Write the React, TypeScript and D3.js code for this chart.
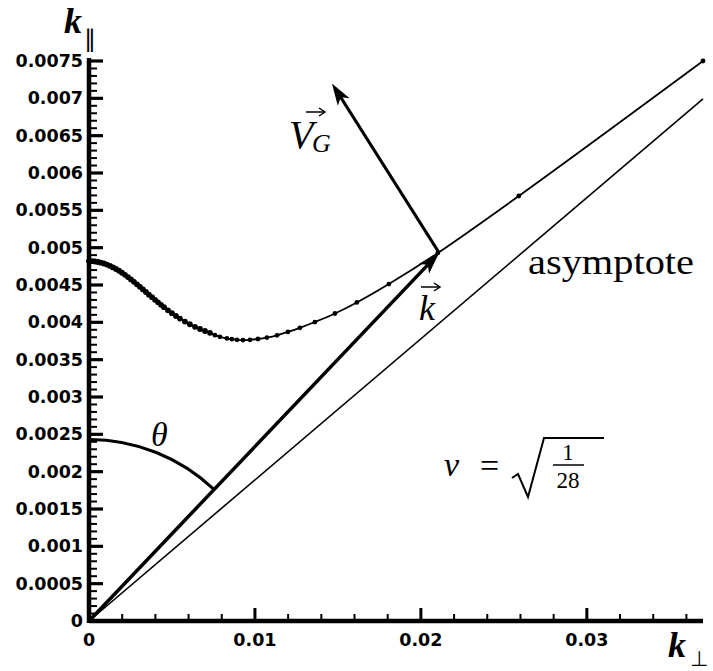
import * as d3 from 'd3';

// dispersion curve k_par(k_perp)
const kPerp = [0, 0.00018, 0.00036, 0.00054, 0.00072, 0.0009, 0.00108, 0.00127, 0.00145, 0.00163,
  0.00181, 0.00199, 0.00217, 0.00235, 0.00253, 0.00271, 0.00289, 0.00307, 0.00325, 0.00343,
  0.00361, 0.0038, 0.00398, 0.00416, 0.00434, 0.00452, 0.00476, 0.005, 0.00524, 0.00548,
  0.00578, 0.00608, 0.00639, 0.00669, 0.00699, 0.00729, 0.00759, 0.00789, 0.00831, 0.00861,
  0.00892, 0.00928, 0.0097, 0.01018, 0.01072, 0.01133, 0.01199, 0.01271, 0.01361, 0.01482,
  0.01614, 0.01807, 0.02102, 0.0259, 0.037];
const kPar = [0.004821, 0.004819, 0.004815, 0.004808, 0.004799, 0.004788, 0.004773, 0.004756, 0.004736, 0.004714,
  0.004691, 0.004664, 0.004636, 0.004606, 0.004575, 0.004543, 0.004509, 0.004476, 0.004441, 0.004406,
  0.004371, 0.004337, 0.004302, 0.004268, 0.004235, 0.004203, 0.004161, 0.004122, 0.004085, 0.00405,
  0.00401, 0.003974, 0.00394, 0.003911, 0.003884, 0.00386, 0.003828, 0.003806, 0.003785, 0.003774,
  0.003766, 0.003763, 0.003766, 0.003777, 0.003796, 0.003826, 0.003871, 0.003927, 0.004004, 0.004118,
  0.004266, 0.004513, 0.004929, 0.005692, 0.0075];

const asymptoteSlope = Math.sqrt(1 / 28);
const asymptoteX = [0, 0.037];
const kVector = [0.0211, 0.00493];
const vgTip = [0.01464, 0.0072];
const thetaRadius = 0.00243;

const xTickValues = [0, 0.01, 0.02, 0.03];
const xTickLabels = ['0', '0.01', '0.02', '0.03'];
const yTickValues = [0, 0.0005, 0.001, 0.0015, 0.002, 0.0025, 0.003, 0.0035, 0.004, 0.0045,
  0.005, 0.0055, 0.006, 0.0065, 0.007, 0.0075];
const yTickLabels = ['0', '0.0005', '0.001', '0.0015', '0.002', '0.0025', '0.003', '0.0035', '0.004', '0.0045',
  '0.005', '0.0055', '0.006', '0.0065', '0.007', '0.0075'];

const W = 713;
const H = 671;
const margin = { top: 61, right: 10, bottom: 50, left: 89 };

const serif = '"Liberation Serif", "DejaVu Serif", serif';
const sans = '"DejaVu Sans", sans-serif';

// arrowhead polygon with its tip at (x2, y2)
const arrowHead = (x1, y1, x2, y2, len = 22, half = 7) => {
  const a = Math.atan2(y2 - y1, x2 - x1);
  const bx = x2 - len * Math.cos(a);
  const by = y2 - len * Math.sin(a);
  const nx = -Math.sin(a);
  const ny = Math.cos(a);
  const nxIn = x2 - (len * 0.75) * Math.cos(a);
  const nyIn = y2 - (len * 0.75) * Math.sin(a);
  return {
    d: `M${x2},${y2}L${bx + nx * half},${by + ny * half}L${nxIn},${nyIn}L${bx - nx * half},${by - ny * half}Z`,
    baseX: nxIn,
    baseY: nyIn,
  };
};

const App = () => {
  const x = d3.scaleLinear().domain([0, 0.037]).range([margin.left, W - margin.right]);
  const y = d3.scaleLinear().domain([0, 0.0075]).range([H - margin.bottom, margin.top]);

  const pts = kPerp.map((d, i) => [d, kPar[i]]);
  const line = d3.line().x(d => x(d[0])).y(d => y(d[1])).curve(d3.curveCatmullRom);

  const x0 = x(0);
  const y0 = y(0);

  // k vector
  const kx = x(kVector[0]);
  const ky = y(kVector[1]);
  const kHead = arrowHead(x0, y0, kx, ky);

  // group velocity vector
  const vx = x(vgTip[0]);
  const vy = y(vgTip[1]);
  const vHead = arrowHead(kx, ky, vx, vy);

  // theta arc (circle in screen space)
  const r = y0 - y(thetaRadius);
  const theta = Math.atan2(kx - x0, y0 - ky);
  const arc = d3.path();
  arc.arc(x0, y0, r, -Math.PI / 2, -Math.PI / 2 + theta, false);

  const minorX = d3.range(0.002, 0.037, 0.002).filter(v => Math.abs(v / 0.01 - Math.round(v / 0.01)) > 1e-6);
  const minorY = d3.range(0.0001, 0.0075, 0.0001).filter(v => Math.abs(v / 0.0005 - Math.round(v / 0.0005)) > 1e-6);

  return (
    <svg width={W} height={H} style={{ display: 'block', background: '#fff' }}>
      <style>{'body{margin:0}'}</style>

      {/* asymptote */}
      <line x1={x(asymptoteX[0])} y1={y(asymptoteX[0] * asymptoteSlope)}
        x2={x(asymptoteX[1])} y2={y(asymptoteX[1] * asymptoteSlope)}
        stroke="#000" strokeWidth={1.6} />

      {/* dispersion curve */}
      <path d={line(pts)} fill="none" stroke="#000" strokeWidth={1.8} />
      {pts.map((d, i) => (
        <circle key={i} cx={x(d[0])} cy={y(d[1])} r={i < 36 ? 2.9 : 2.4} fill="#000" />
      ))}

      {/* k vector */}
      <line x1={x0} y1={y0} x2={kHead.baseX} y2={kHead.baseY} stroke="#000" strokeWidth={3.5} />
      <path d={kHead.d} fill="#000" />

      {/* V_G vector */}
      <line x1={kx} y1={ky} x2={vHead.baseX} y2={vHead.baseY} stroke="#000" strokeWidth={3} />
      <path d={vHead.d} fill="#000" />

      {/* theta arc */}
      <path d={arc.toString()} fill="none" stroke="#000" strokeWidth={3} />

      {/* axes */}
      <line x1={x0} y1={y0} x2={W - margin.right} y2={y0} stroke="#000" strokeWidth={4.5} />
      <line x1={x0} y1={y0 + 2} x2={x0} y2={y(0.0075) - 3} stroke="#000" strokeWidth={4.5} />

      {minorX.map((v, i) => (
        <line key={'mx' + i} x1={x(v)} x2={x(v)} y1={y0} y2={y0 - 7} stroke="#000" strokeWidth={2} />
      ))}
      {xTickValues.map((v, i) => (
        <g key={'x' + i}>
          <line x1={x(v)} x2={x(v)} y1={y0} y2={y0 - 13} stroke="#000" strokeWidth={3} />
          <text x={x(v)} y={646} textAnchor="middle" fontFamily={sans} fontWeight="bold" fontSize={17.5}>
            {xTickLabels[i]}
          </text>
        </g>
      ))}

      {minorY.map((v, i) => (
        <line key={'my' + i} x1={x0} x2={x0 + 8} y1={y(v)} y2={y(v)} stroke="#000" strokeWidth={2} />
      ))}
      {yTickValues.map((v, i) => (
        <g key={'y' + i}>
          <line x1={x0} x2={x0 + 14} y1={y(v)} y2={y(v)} stroke="#000" strokeWidth={3.2} />
          <text x={83} y={y(v) + 6} textAnchor="end" fontFamily={sans} fontWeight="bold" fontSize={17.5}>
            {yTickLabels[i]}
          </text>
        </g>
      ))}

      {/* axis titles */}
      <text x={64} y={33} fontFamily={serif} fontStyle="italic" fontWeight="bold" fontSize={36}>k</text>
      <text x={84} y={47} fontFamily={sans} fontSize={24}>∥</text>
      <text x={668} y={657} fontFamily={serif} fontStyle="italic" fontWeight="bold" fontSize={36}>k</text>
      <text x={690} y={666} fontFamily={sans} fontSize={21}>⊥</text>

      {/* V_G label */}
      <text x={289} y={148} fontFamily={serif} fontStyle="italic" fontSize={40}>V</text>
      <text x={312} y={152} fontFamily={serif} fontStyle="italic" fontSize={26}>G</text>
      <path d="M306,112L324,112" stroke="#000" strokeWidth={1.5} />
      <path d="M319,108L325,112L319,116" fill="none" stroke="#000" strokeWidth={1.5} />

      {/* k label */}
      <text x={419} y={320} fontFamily={serif} fontStyle="italic" fontSize={36}>k</text>
      <path d="M421,287L439,287" stroke="#000" strokeWidth={1.5} />
      <path d="M434,283L440,287L434,291" fill="none" stroke="#000" strokeWidth={1.5} />

      <text x={528} y={274} fontFamily={serif} fontSize={36} textLength={166} lengthAdjust="spacingAndGlyphs">asymptote</text>

      {/* theta */}
      <text x={151} y={446} fontFamily={serif} fontStyle="italic" fontSize={34}>θ</text>

      {/* nu = sqrt(1/28) */}
      <text x={444} y={476} fontFamily={serif} fontStyle="italic" fontSize={34}>ν</text>
      <text x={480} y={477} fontFamily={serif} fontSize={34}>=</text>
      <path d="M512,478L518,474L528,497L544,438L604,438" fill="none" stroke="#000" strokeWidth={2} />
      <text x={568} y={460} textAnchor="middle" fontFamily={serif} fontSize={23}>1</text>
      <line x1={553} x2={584} y1={465} y2={465} stroke="#000" strokeWidth={1.5} />
      <text x={568} y={488} textAnchor="middle" fontFamily={serif} fontSize={23}>28</text>
    </svg>
  );
};

export default App;
